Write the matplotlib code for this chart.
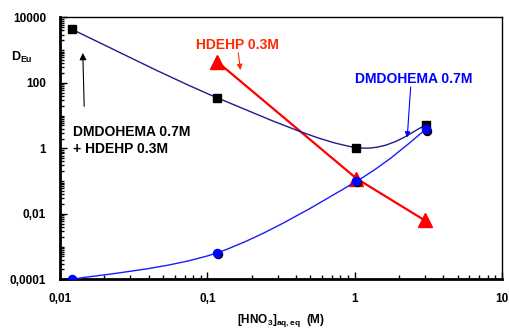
import numpy as np
import matplotlib
matplotlib.use('Agg')
import matplotlib.pyplot as plt
from matplotlib.path import Path
from matplotlib.patches import PathPatch
from matplotlib.transforms import ScaledTranslation
from matplotlib.ticker import LogLocator, NullFormatter

# data
hno3 = [0.0121, 0.117, 1.03, 3.05]
d_mix = [4300, 35, 1.06, 5.1]            # DMDOHEMA 0.7M + HDEHP 0.3M
d_dmdohema = [1.0e-4, 6.5e-4, 0.099, 3.8]  # DMDOHEMA 0.7M
hno3_hdehp = [0.117, 1.03, 3.0]
d_hdehp = [440, 0.12, 0.0063]            # HDEHP 0.3M

x_ticks = [0.01, 0.1, 1, 10]
x_labels = ['0,01', '0,1', '1', '10']
y_ticks = [1e-4, 1e-2, 1, 100, 10000]
y_labels = ['0,0001', '0,01', '1', '100', '10000']

plt.rcParams['font.family'] = ['Liberation Sans', 'DejaVu Sans']
plt.rcParams['mathtext.default'] = 'regular'


def smooth_path(x, y):
    # Excel-like smoothed line: cubic bezier through the points in log space
    pts = np.column_stack([np.log10(x), np.log10(y)])
    n = len(pts)
    verts = [pts[0]]
    codes = [Path.MOVETO]
    for i in range(n - 1):
        p0 = pts[max(i - 1, 0)]
        p1, p2 = pts[i], pts[i + 1]
        p3 = pts[min(i + 2, n - 1)]
        verts += [p1 + (p2 - p0) / 6, p2 - (p3 - p1) / 6, p2]
        codes += [Path.CURVE4] * 3
    return Path(10 ** np.array(verts), codes)


fig = plt.figure(figsize=(5.09, 3.29), dpi=100)
ax = fig.add_axes([0.118, 0.151, 0.868, 0.796])
ax.set_xscale('log')
ax.set_yscale('log')
ax.set_xlim(0.01, 10)
ax.set_ylim(1e-4, 1e4)

shadow = ax.transData + ScaledTranslation(1.0 / 100, -1.2 / 100, fig.dpi_scale_trans)

# HDEHP
ax.plot(hno3_hdehp, d_hdehp, color='#ff0000', lw=1.6, zorder=2)
ax.plot(hno3_hdehp, d_hdehp, ls='none', marker='^', ms=9.5, color='#ff0000',
        mec='#ff0000', zorder=2.1)

# mixture
ax.add_patch(PathPatch(smooth_path(hno3, d_mix), fill=False,
                       edgecolor='#1c1c8c', lw=1.0, zorder=3))
ax.plot(hno3, d_mix, ls='none', marker='s', ms=6.2, color='black', zorder=3.1)

# DMDOHEMA
ax.add_patch(PathPatch(smooth_path(hno3, d_dmdohema), fill=False,
                       edgecolor='#1a1aff', lw=1.0, zorder=4))
ax.plot(hno3, d_dmdohema, ls='none', marker='o', ms=5.8, color='black',
        transform=shadow, zorder=4)
ax.plot(hno3, d_dmdohema, ls='none', marker='o', ms=5.8, color='#0000ff',
        mec='#0000ff', zorder=4.1)

# axes styling
ax.set_xticks(x_ticks, x_labels)
ax.set_yticks(y_ticks, y_labels)
ax.xaxis.set_minor_locator(LogLocator(base=10, subs=np.arange(1, 10), numticks=20))
ax.yaxis.set_minor_locator(LogLocator(base=10, subs=np.arange(1, 10), numticks=20))
ax.xaxis.set_minor_formatter(NullFormatter())
ax.yaxis.set_minor_formatter(NullFormatter())
ax.tick_params(which='both', direction='in', width=1, colors='black',
               labelsize=8.5)
ax.tick_params(which='major', length=5)
ax.tick_params(which='minor', length=3)
ax.tick_params(axis='x', pad=10)
ax.tick_params(axis='y', pad=10)
for lab in ax.get_xticklabels() + ax.get_yticklabels():
    lab.set_fontweight('bold')
ax.spines['left'].set_linewidth(2)
ax.spines['bottom'].set_linewidth(2)
ax.spines['top'].set_linewidth(1)
ax.spines['right'].set_linewidth(1)

# labels and annotations
fig.text(11 / 509, 1 - 57 / 329, 'D$_{Eu}$', fontsize=9, fontweight='bold',
         va='center', ha='left')
fig.text(281 / 509, 1 - 320 / 329, '[HNO$_3$]$_{aq,eq}$  (M)', fontsize=8.5,
         fontweight='bold', va='center', ha='center')

ax.text(0.0123, 1.7, 'DMDOHEMA 0.7M\n+ HDEHP 0.3M', fontsize=10,
        fontweight='bold', color='black', va='center', ha='left',
        linespacing=1.25)
ax.annotate('', xy=(0.01425, 1000), xytext=(0.0146, 15.8),
            arrowprops=dict(arrowstyle='-|>', color='black', lw=0.8,
                            mutation_scale=10))

ax.text(0.16, 1480, 'HDEHP 0.3M', fontsize=10, fontweight='bold',
        color='#ff2a00', va='center', ha='center')
ax.annotate('', xy=(0.1686, 204), xytext=(0.1614, 1000),
            arrowprops=dict(arrowstyle='-|>', color='#ff2a00', lw=0.8,
                            mutation_scale=8))

ax.text(2.53, 130, 'DMDOHEMA 0.7M', fontsize=10, fontweight='bold',
        color='#0000ff', va='center', ha='center')
ax.annotate('', xy=(2.27, 1.78), xytext=(2.41, 91),
            arrowprops=dict(arrowstyle='-|>', color='#0000ff', lw=0.8,
                            mutation_scale=8))

fig.savefig('out.png', dpi=100)
